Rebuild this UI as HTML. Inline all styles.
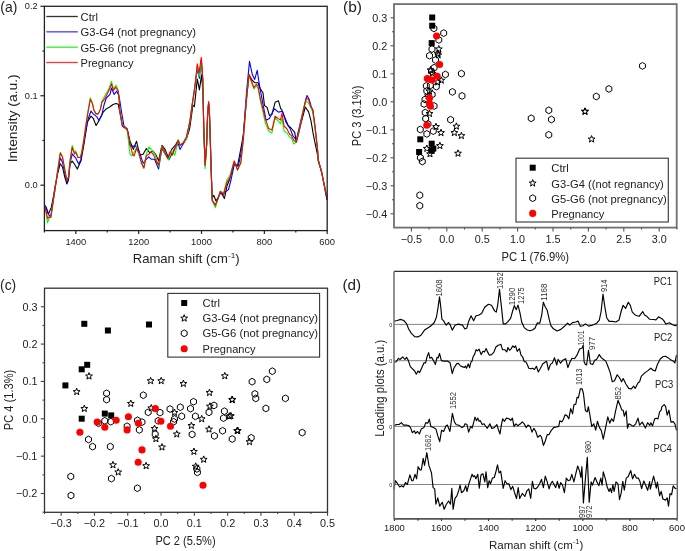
<!DOCTYPE html>
<html><head><meta charset="utf-8"><style>
html,body{margin:0;padding:0;background:#fff;overflow:hidden;width:685px;height:551px;}
svg{display:block;will-change:transform;}
</style></head><body>
<svg width="685" height="551" viewBox="0 0 685 551">
<rect width="685" height="551" fill="#fff"/>
<path d="M44.4,204.0 L44.7,205.2 L46.5,209.0 L48.4,214.0 L51.3,207.4 L53.5,196.0 L55.5,184.0 L58.0,172.0 L60.3,163.7 L62.5,167.0 L64.5,176.0 L66.9,184.0 L68.5,180.0 L70.0,164.0 L72.2,161.1 L74.4,164.0 L77.3,169.1 L80.9,161.1 L83.8,145.2 L87.4,121.9 L91.0,116.1 L93.2,118.3 L96.1,125.6 L99.0,120.5 L103.4,111.8 L106.3,108.9 L110.0,106.7 L113.0,104.5 L116.0,103.5 L118.3,104.3 L120.8,117.4 L122.4,126.4 L125.7,128.5 L127.3,130.0 L130.0,141.2 L133.3,149.4 L136.5,141.2 L139.8,155.1 L143.1,154.3 L146.3,148.6 L149.6,152.7 L152.9,151.0 L156.1,155.1 L158.6,160.8 L161.9,145.3 L165.1,149.4 L168.4,157.6 L171.7,149.4 L175.8,144.5 L178.2,140.4 L180.0,145.0 L183.0,144.0 L186.4,139.0 L189.7,128.4 L192.9,105.2 L194.4,106.6 L197.3,79.0 L199.4,89.9 L201.6,74.7 L203.0,93.5 L203.8,130.0 L205.1,165.1 L206.6,145.0 L207.6,115.0 L208.6,103.0 L209.5,115.0 L210.3,140.0 L211.0,165.0 L212.2,198.0 L213.8,195.4 L216.0,201.0 L219.0,196.0 L221.0,192.0 L224.4,198.6 L227.0,186.0 L230.1,178.0 L234.2,163.0 L237.5,166.0 L241.6,144.7 L243.3,135.0 L246.5,99.0 L249.0,74.5 L252.0,80.0 L254.7,82.7 L258.0,82.7 L260.4,89.2 L262.9,92.5 L264.5,105.6 L267.0,107.2 L269.4,115.4 L271.9,114.5 L275.1,102.3 L278.4,100.7 L280.8,108.8 L281.6,109.4 L284.9,117.6 L288.2,125.8 L291.0,128.0 L294.7,132.3 L296.3,142.1 L301.2,122.5 L305.3,107.0 L308.6,111.9 L311.0,120.8 L313.5,135.6 L317.6,155.2 L318.3,160.0 L321.6,172.0 L323.8,183.0 L326.0,195.0 L327.0,200.0" stroke="#000" stroke-width="1.1" fill="none" stroke-linejoin="round"/>
<path d="M44.4,205.0 L46.2,207.0 L47.6,212.0 L49.5,216.0 L51.0,215.0 L52.7,204.5 L54.9,190.0 L57.5,173.0 L60.3,158.0 L62.5,162.0 L64.5,172.0 L66.9,182.5 L68.5,178.0 L70.1,163.0 L72.2,153.9 L75.8,158.2 L78.7,164.0 L80.9,159.7 L84.5,137.9 L88.1,119.0 L91.0,111.0 L93.2,113.9 L96.9,116.9 L99.0,120.5 L101.9,114.7 L104.0,105.0 L106.3,98.0 L110.0,94.4 L111.5,88.0 L114.2,94.5 L116.7,91.2 L119.1,96.1 L121.6,112.5 L124.0,126.0 L127.3,129.0 L130.0,146.1 L135.7,146.1 L139.0,151.0 L143.1,163.3 L146.3,159.2 L148.8,156.8 L151.2,159.2 L154.5,159.2 L158.6,169.0 L161.9,148.6 L165.9,155.1 L169.2,159.2 L174.1,149.4 L178.2,143.7 L180.0,149.4 L183.0,144.0 L186.4,138.0 L190.0,121.1 L192.2,104.0 L193.6,96.0 L195.1,85.0 L197.3,68.9 L199.4,78.3 L201.3,60.0 L202.8,80.0 L203.8,130.0 L205.1,165.1 L206.6,145.0 L207.6,115.0 L208.6,102.5 L209.5,115.0 L210.3,140.0 L211.0,165.0 L212.2,200.3 L215.4,205.2 L217.9,199.0 L220.3,192.0 L222.8,195.4 L225.0,192.0 L228.5,189.6 L231.0,180.0 L234.2,165.0 L238.3,166.0 L240.8,154.5 L243.3,136.0 L246.5,92.5 L249.5,61.4 L252.3,74.5 L254.7,79.4 L257.2,70.4 L259.6,86.0 L262.9,103.9 L266.1,120.3 L269.4,118.6 L274.3,108.8 L278.4,112.1 L282.5,111.3 L285.8,121.9 L290.0,128.4 L293.0,136.0 L296.3,140.0 L301.2,119.2 L304.0,107.0 L307.0,95.5 L309.0,99.0 L311.0,106.0 L313.0,111.0 L315.1,127.4 L317.6,150.0 L318.3,161.0 L321.6,172.0 L323.8,183.0 L326.0,193.0 L327.0,197.0" stroke="#0000ff" stroke-width="1.1" fill="none" stroke-linejoin="round"/>
<path d="M44.4,206.0 L45.5,210.0 L47.6,222.7 L49.5,217.0 L51.0,216.0 L52.7,204.5 L54.9,190.0 L57.5,171.0 L60.3,152.3 L62.5,157.0 L64.5,168.0 L66.9,180.5 L68.5,177.0 L70.1,160.0 L72.2,145.5 L74.4,152.0 L75.8,151.0 L78.0,157.5 L80.2,157.5 L81.6,152.0 L83.8,139.0 L86.0,123.8 L88.1,110.0 L90.3,97.8 L92.5,103.0 L93.9,110.0 L96.1,113.9 L98.3,113.9 L100.5,108.9 L101.9,101.3 L104.8,95.8 L107.7,91.0 L109.3,87.6 L111.5,81.4 L113.4,89.0 L115.9,85.2 L118.3,90.2 L120.0,110.8 L122.4,125.6 L125.7,128.0 L127.3,131.0 L130.0,154.3 L132.0,156.0 L136.5,147.8 L139.8,157.6 L143.9,167.4 L146.3,154.3 L148.8,147.0 L152.1,150.2 L155.3,155.1 L158.6,166.6 L161.9,146.1 L165.1,154.3 L168.4,160.0 L171.7,151.0 L174.9,155.1 L178.2,139.6 L180.0,145.3 L183.0,143.0 L186.4,139.0 L190.0,121.1 L192.2,105.2 L193.6,95.0 L195.1,84.8 L197.3,66.0 L199.2,76.5 L201.3,59.0 L202.8,80.0 L203.8,130.0 L205.1,168.4 L206.6,145.0 L207.6,115.0 L208.6,103.0 L209.5,115.0 L210.3,140.0 L211.0,165.0 L212.2,201.0 L215.4,207.6 L217.9,199.0 L220.3,191.3 L223.6,193.0 L226.9,180.0 L230.1,175.0 L234.2,161.0 L237.5,170.0 L240.8,163.0 L243.3,140.0 L246.5,99.0 L249.0,75.0 L251.4,82.0 L253.9,89.0 L256.3,86.0 L258.0,88.0 L260.4,101.0 L262.9,112.0 L265.3,123.0 L268.6,131.0 L271.9,133.0 L275.1,118.0 L278.4,121.0 L280.5,124.0 L282.0,118.0 L284.0,131.0 L287.0,133.0 L289.5,137.0 L291.4,138.0 L293.9,144.0 L296.3,142.1 L298.8,132.3 L301.2,120.8 L303.7,108.0 L306.1,101.0 L308.6,103.0 L311.0,108.0 L312.7,112.0 L315.1,129.0 L317.6,151.0 L318.3,161.0 L321.6,172.0 L323.8,182.7 L326.0,192.0 L327.0,196.0" stroke="#00ff00" stroke-width="1.1" fill="none" stroke-linejoin="round"/>
<path d="M44.4,206.0 L45.1,207.4 L46.2,211.8 L47.6,218.3 L49.1,216.9 L50.9,217.6 L52.7,204.5 L54.9,190.0 L57.5,172.0 L60.3,153.0 L62.5,157.0 L64.5,168.0 L66.9,180.5 L68.5,177.0 L70.1,161.0 L72.2,147.3 L74.4,153.9 L75.8,152.4 L78.0,157.5 L80.2,157.5 L81.6,153.9 L83.8,140.8 L86.0,124.8 L88.1,111.8 L90.3,99.4 L92.5,103.8 L93.9,110.3 L96.1,113.9 L98.3,113.9 L100.5,108.9 L101.9,102.3 L104.8,98.7 L107.7,92.9 L109.3,89.6 L111.5,83.9 L113.4,90.4 L115.9,87.2 L118.3,91.2 L120.0,110.8 L122.4,125.6 L125.7,128.0 L127.3,129.6 L129.8,141.9 L132.5,154.3 L134.1,155.9 L136.5,148.6 L139.0,152.7 L141.4,163.3 L143.9,168.2 L146.3,155.9 L148.8,154.3 L151.2,151.9 L153.7,155.1 L156.1,160.8 L158.6,164.9 L161.0,151.0 L162.7,146.1 L165.1,152.7 L167.6,158.4 L170.0,151.9 L172.5,155.1 L175.8,146.1 L178.2,140.4 L180.0,145.3 L183.0,143.0 L186.4,137.0 L190.0,121.1 L192.2,105.2 L193.6,95.0 L195.1,84.8 L197.3,63.8 L199.0,73.2 L201.3,57.3 L202.8,79.0 L203.8,130.0 L205.1,165.1 L206.6,145.0 L207.6,115.0 L208.6,101.5 L209.5,115.0 L210.3,140.0 L211.0,165.0 L212.2,200.3 L215.4,205.2 L217.9,198.6 L220.3,191.3 L223.6,194.5 L226.9,182.3 L230.1,177.4 L234.2,161.0 L237.5,170.0 L240.8,162.7 L243.3,140.0 L246.5,99.0 L249.0,74.5 L251.4,81.0 L253.9,87.6 L256.3,84.3 L258.0,86.0 L260.4,99.0 L262.9,108.8 L265.3,118.6 L268.6,128.4 L271.9,130.1 L275.1,116.2 L278.4,118.6 L280.5,120.0 L282.0,113.0 L284.0,126.0 L287.0,129.0 L289.5,134.0 L291.4,135.6 L293.9,140.5 L296.3,142.1 L298.8,132.3 L301.2,120.8 L303.7,109.4 L306.1,98.0 L308.6,99.6 L311.0,107.0 L312.7,109.4 L315.1,127.4 L317.6,150.3 L318.3,160.9 L321.6,171.8 L323.8,182.7 L326.0,193.6 L327.0,197.5" stroke="#ff0000" stroke-width="1.1" fill="none" stroke-linejoin="round"/>
<rect x="44.40" y="6.30" width="282.80" height="224.30" stroke="#222" stroke-width="1.3" fill="none"/>
<line x1="40.40" y1="6.30" x2="44.40" y2="6.30" stroke="#222" stroke-width="1.2"/>
<text x="37.6" y="9.199999999999983" font-size="9.8" font-family='"Liberation Sans", sans-serif' fill="#222" text-anchor="end" textLength="12.8" lengthAdjust="spacingAndGlyphs">0.2</text>
<line x1="40.40" y1="95.75" x2="44.40" y2="95.75" stroke="#222" stroke-width="1.2"/>
<text x="37.6" y="98.64999999999999" font-size="9.8" font-family='"Liberation Sans", sans-serif' fill="#222" text-anchor="end" textLength="12.8" lengthAdjust="spacingAndGlyphs">0.1</text>
<line x1="40.40" y1="185.20" x2="44.40" y2="185.20" stroke="#222" stroke-width="1.2"/>
<text x="37.6" y="188.1" font-size="9.8" font-family='"Liberation Sans", sans-serif' fill="#222" text-anchor="end" textLength="12.8" lengthAdjust="spacingAndGlyphs">0.0</text>
<line x1="42.40" y1="51.03" x2="44.40" y2="51.03" stroke="#222" stroke-width="1.2"/>
<line x1="42.40" y1="140.47" x2="44.40" y2="140.47" stroke="#222" stroke-width="1.2"/>
<line x1="75.82" y1="230.60" x2="75.82" y2="233.90" stroke="#222" stroke-width="1.2"/>
<text x="75.82222222222222" y="244.9" font-size="9.4" font-family='"Liberation Sans", sans-serif' fill="#222" text-anchor="middle">1400</text>
<line x1="138.67" y1="230.60" x2="138.67" y2="233.90" stroke="#222" stroke-width="1.2"/>
<text x="138.66666666666666" y="244.9" font-size="9.4" font-family='"Liberation Sans", sans-serif' fill="#222" text-anchor="middle">1200</text>
<line x1="201.51" y1="230.60" x2="201.51" y2="233.90" stroke="#222" stroke-width="1.2"/>
<text x="201.51111111111112" y="244.9" font-size="9.4" font-family='"Liberation Sans", sans-serif' fill="#222" text-anchor="middle">1000</text>
<line x1="264.36" y1="230.60" x2="264.36" y2="233.90" stroke="#222" stroke-width="1.2"/>
<text x="264.35555555555555" y="244.9" font-size="9.4" font-family='"Liberation Sans", sans-serif' fill="#222" text-anchor="middle">800</text>
<line x1="327.20" y1="230.60" x2="327.20" y2="233.90" stroke="#222" stroke-width="1.2"/>
<text x="327.2" y="244.9" font-size="9.4" font-family='"Liberation Sans", sans-serif' fill="#222" text-anchor="middle">600</text>
<line x1="44.40" y1="230.60" x2="44.40" y2="232.60" stroke="#222" stroke-width="1.2"/>
<line x1="107.24" y1="230.60" x2="107.24" y2="232.60" stroke="#222" stroke-width="1.2"/>
<line x1="170.09" y1="230.60" x2="170.09" y2="232.60" stroke="#222" stroke-width="1.2"/>
<line x1="232.93" y1="230.60" x2="232.93" y2="232.60" stroke="#222" stroke-width="1.2"/>
<line x1="295.78" y1="230.60" x2="295.78" y2="232.60" stroke="#222" stroke-width="1.2"/>
<text x="0.3" y="12.0" font-size="14.3" font-family='"Liberation Sans", sans-serif' fill="#222" text-anchor="start" textLength="17" lengthAdjust="spacingAndGlyphs">(a)</text>
<text x="17.4" y="118.3" font-size="12.6" font-family='"Liberation Sans", sans-serif' fill="#222" text-anchor="middle" textLength="88" lengthAdjust="spacingAndGlyphs" transform="rotate(-90 17.4 118.3)">Intensity (a.u.)</text>
<text x="132.7" y="263.1" font-size="12.6" textLength="107" lengthAdjust="spacingAndGlyphs" font-family='"Liberation Sans", sans-serif' fill="#222">Raman shift (cm<tspan font-size="8" dy="-5">-1</tspan><tspan dy="5">)</tspan></text>
<line x1="46.30" y1="16.50" x2="77.80" y2="16.50" stroke="#333" stroke-width="1.3"/>
<text x="80.5" y="21.0" font-size="11" font-family='"Liberation Sans", sans-serif' fill="#222" text-anchor="start" textLength="17.5" lengthAdjust="spacingAndGlyphs">Ctrl</text>
<line x1="46.30" y1="31.83" x2="77.80" y2="31.83" stroke="#4040ff" stroke-width="1.3"/>
<text x="80.5" y="36.33" font-size="11" font-family='"Liberation Sans", sans-serif' fill="#222" text-anchor="start" textLength="115.5" lengthAdjust="spacingAndGlyphs">G3-G4 (not pregnancy)</text>
<line x1="46.30" y1="47.16" x2="77.80" y2="47.16" stroke="#30ee30" stroke-width="1.3"/>
<text x="80.5" y="51.66" font-size="11" font-family='"Liberation Sans", sans-serif' fill="#222" text-anchor="start" textLength="115.5" lengthAdjust="spacingAndGlyphs">G5-G6 (not pregnancy)</text>
<line x1="46.30" y1="62.49" x2="77.80" y2="62.49" stroke="#ff3030" stroke-width="1.3"/>
<text x="80.5" y="66.99000000000001" font-size="11" font-family='"Liberation Sans", sans-serif' fill="#222" text-anchor="start" textLength="53" lengthAdjust="spacingAndGlyphs">Pregnancy</text>
<polygon points="436.84,30.10 433.90,31.80 430.96,30.10 430.96,26.70 433.90,25.00 436.84,26.70" fill="none" stroke="#000" stroke-width="1.0"/>
<polygon points="446.64,34.80 443.70,36.50 440.76,34.80 440.76,31.40 443.70,29.70 446.64,31.40" fill="none" stroke="#000" stroke-width="1.0"/>
<polygon points="441.74,41.60 438.80,43.30 435.86,41.60 435.86,38.20 438.80,36.50 441.74,38.20" fill="none" stroke="#000" stroke-width="1.0"/>
<polygon points="434.94,50.80 432.00,52.50 429.06,50.80 429.06,47.40 432.00,45.70 434.94,47.40" fill="none" stroke="#000" stroke-width="1.0"/>
<polygon points="432.44,57.40 429.50,59.10 426.56,57.40 426.56,54.00 429.50,52.30 432.44,54.00" fill="none" stroke="#000" stroke-width="1.0"/>
<polygon points="438.44,61.70 435.50,63.40 432.56,61.70 432.56,58.30 435.50,56.60 438.44,58.30" fill="none" stroke="#000" stroke-width="1.0"/>
<polygon points="437.04,69.40 434.10,71.10 431.16,69.40 431.16,66.00 434.10,64.30 437.04,66.00" fill="none" stroke="#000" stroke-width="1.0"/>
<polygon points="434.44,73.20 431.50,74.90 428.56,73.20 428.56,69.80 431.50,68.10 434.44,69.80" fill="none" stroke="#000" stroke-width="1.0"/>
<polygon points="448.34,76.20 445.40,77.90 442.46,76.20 442.46,72.80 445.40,71.10 448.34,72.80" fill="none" stroke="#000" stroke-width="1.0"/>
<polygon points="464.34,75.30 461.40,77.00 458.46,75.30 458.46,71.90 461.40,70.20 464.34,71.90" fill="none" stroke="#000" stroke-width="1.0"/>
<polygon points="429.24,87.60 426.30,89.30 423.36,87.60 423.36,84.20 426.30,82.50 429.24,84.20" fill="none" stroke="#000" stroke-width="1.0"/>
<polygon points="433.34,87.10 430.40,88.80 427.46,87.10 427.46,83.70 430.40,82.00 433.34,83.70" fill="none" stroke="#000" stroke-width="1.0"/>
<polygon points="439.24,88.30 436.30,90.00 433.36,88.30 433.36,84.90 436.30,83.20 439.24,84.90" fill="none" stroke="#000" stroke-width="1.0"/>
<polygon points="429.74,92.60 426.80,94.30 423.86,92.60 423.86,89.20 426.80,87.50 429.74,89.20" fill="none" stroke="#000" stroke-width="1.0"/>
<polygon points="435.14,96.20 432.20,97.90 429.26,96.20 429.26,92.80 432.20,91.10 435.14,92.80" fill="none" stroke="#000" stroke-width="1.0"/>
<polygon points="455.34,93.60 452.40,95.30 449.46,93.60 449.46,90.20 452.40,88.50 455.34,90.20" fill="none" stroke="#000" stroke-width="1.0"/>
<polygon points="464.94,97.60 462.00,99.30 459.06,97.60 459.06,94.20 462.00,92.50 464.94,94.20" fill="none" stroke="#000" stroke-width="1.0"/>
<polygon points="427.94,101.20 425.00,102.90 422.06,101.20 422.06,97.80 425.00,96.10 427.94,97.80" fill="none" stroke="#000" stroke-width="1.0"/>
<polygon points="437.04,107.70 434.10,109.40 431.16,107.70 431.16,104.30 434.10,102.60 437.04,104.30" fill="none" stroke="#000" stroke-width="1.0"/>
<polygon points="428.14,114.30 425.20,116.00 422.26,114.30 422.26,110.90 425.20,109.20 428.14,110.90" fill="none" stroke="#000" stroke-width="1.0"/>
<polygon points="428.64,120.30 425.70,122.00 422.76,120.30 422.76,116.90 425.70,115.20 428.64,116.90" fill="none" stroke="#000" stroke-width="1.0"/>
<polygon points="453.54,121.40 450.60,123.10 447.66,121.40 447.66,118.00 450.60,116.30 453.54,118.00" fill="none" stroke="#000" stroke-width="1.0"/>
<polygon points="423.24,131.20 420.30,132.90 417.36,131.20 417.36,127.80 420.30,126.10 423.24,127.80" fill="none" stroke="#000" stroke-width="1.0"/>
<polygon points="436.24,132.80 433.30,134.50 430.36,132.80 430.36,129.40 433.30,127.70 436.24,129.40" fill="none" stroke="#000" stroke-width="1.0"/>
<polygon points="429.74,135.60 426.80,137.30 423.86,135.60 423.86,132.20 426.80,130.50 429.74,132.20" fill="none" stroke="#000" stroke-width="1.0"/>
<polygon points="423.34,159.40 420.40,161.10 417.46,159.40 417.46,156.00 420.40,154.30 423.34,156.00" fill="none" stroke="#000" stroke-width="1.0"/>
<polygon points="425.24,163.20 422.30,164.90 419.36,163.20 419.36,159.80 422.30,158.10 425.24,159.80" fill="none" stroke="#000" stroke-width="1.0"/>
<polygon points="422.74,196.90 419.80,198.60 416.86,196.90 416.86,193.50 419.80,191.80 422.74,193.50" fill="none" stroke="#000" stroke-width="1.0"/>
<polygon points="422.74,207.40 419.80,209.10 416.86,207.40 416.86,204.00 419.80,202.30 422.74,204.00" fill="none" stroke="#000" stroke-width="1.0"/>
<polygon points="534.14,120.00 531.20,121.70 528.26,120.00 528.26,116.60 531.20,114.90 534.14,116.60" fill="none" stroke="#000" stroke-width="1.0"/>
<polygon points="551.74,112.00 548.80,113.70 545.86,112.00 545.86,108.60 548.80,106.90 551.74,108.60" fill="none" stroke="#000" stroke-width="1.0"/>
<polygon points="554.34,121.20 551.40,122.90 548.46,121.20 548.46,117.80 551.40,116.10 554.34,117.80" fill="none" stroke="#000" stroke-width="1.0"/>
<polygon points="551.74,136.50 548.80,138.20 545.86,136.50 545.86,133.10 548.80,131.40 551.74,133.10" fill="none" stroke="#000" stroke-width="1.0"/>
<polygon points="645.44,67.60 642.50,69.30 639.56,67.60 639.56,64.20 642.50,62.50 645.44,64.20" fill="none" stroke="#000" stroke-width="1.0"/>
<polygon points="611.84,90.60 608.90,92.30 605.96,90.60 605.96,87.20 608.90,85.50 611.84,87.20" fill="none" stroke="#000" stroke-width="1.0"/>
<polygon points="599.24,98.20 596.30,99.90 593.36,98.20 593.36,94.80 596.30,93.10 599.24,94.80" fill="none" stroke="#000" stroke-width="1.0"/>
<polygon points="430.94,125.70 428.00,127.40 425.06,125.70 425.06,122.30 428.00,120.60 430.94,122.30" fill="none" stroke="#000" stroke-width="1.0"/>
<polygon points="426.94,105.70 424.00,107.40 421.06,105.70 421.06,102.30 424.00,100.60 426.94,102.30" fill="none" stroke="#000" stroke-width="1.0"/>
<polygon points="438.80,45.50 439.69,47.88 442.22,47.99 440.24,49.57 440.92,52.01 438.80,50.61 436.68,52.01 437.36,49.57 435.38,47.99 437.91,47.88" fill="none" stroke="#000" stroke-width="1.0" stroke-linejoin="miter"/>
<polygon points="437.70,49.90 438.59,52.28 441.12,52.39 439.14,53.97 439.82,56.41 437.70,55.01 435.58,56.41 436.26,53.97 434.28,52.39 436.81,52.28" fill="none" stroke="#000" stroke-width="1.0" stroke-linejoin="miter"/>
<polygon points="438.20,51.50 439.09,53.88 441.62,53.99 439.64,55.57 440.32,58.01 438.20,56.61 436.08,58.01 436.76,55.57 434.78,53.99 437.31,53.88" fill="none" stroke="#000" stroke-width="1.0" stroke-linejoin="miter"/>
<polygon points="430.50,66.40 431.39,68.78 433.92,68.89 431.94,70.47 432.62,72.91 430.50,71.51 428.38,72.91 429.06,70.47 427.08,68.89 429.61,68.78" fill="none" stroke="#000" stroke-width="1.0" stroke-linejoin="miter"/>
<polygon points="432.50,69.90 433.39,72.28 435.92,72.39 433.94,73.97 434.62,76.41 432.50,75.01 430.38,76.41 431.06,73.97 429.08,72.39 431.61,72.28" fill="none" stroke="#000" stroke-width="1.0" stroke-linejoin="miter"/>
<polygon points="441.30,76.80 442.19,79.18 444.72,79.29 442.74,80.87 443.42,83.31 441.30,81.91 439.18,83.31 439.86,80.87 437.88,79.29 440.41,79.18" fill="none" stroke="#000" stroke-width="1.0" stroke-linejoin="miter"/>
<polygon points="437.70,78.60 438.59,80.98 441.12,81.09 439.14,82.67 439.82,85.11 437.70,83.71 435.58,85.11 436.26,82.67 434.28,81.09 436.81,80.98" fill="none" stroke="#000" stroke-width="1.0" stroke-linejoin="miter"/>
<polygon points="429.50,87.70 430.39,90.08 432.92,90.19 430.94,91.77 431.62,94.21 429.50,92.81 427.38,94.21 428.06,91.77 426.08,90.19 428.61,90.08" fill="none" stroke="#000" stroke-width="1.0" stroke-linejoin="miter"/>
<polygon points="429.50,110.10 430.39,112.48 432.92,112.59 430.94,114.17 431.62,116.61 429.50,115.21 427.38,116.61 428.06,114.17 426.08,112.59 428.61,112.48" fill="none" stroke="#000" stroke-width="1.0" stroke-linejoin="miter"/>
<polygon points="436.00,123.20 436.89,125.58 439.42,125.69 437.44,127.27 438.12,129.71 436.00,128.31 433.88,129.71 434.56,127.27 432.58,125.69 435.11,125.58" fill="none" stroke="#000" stroke-width="1.0" stroke-linejoin="miter"/>
<polygon points="456.40,122.80 457.29,125.18 459.82,125.29 457.84,126.87 458.52,129.31 456.40,127.91 454.28,129.31 454.96,126.87 452.98,125.29 455.51,125.18" fill="none" stroke="#000" stroke-width="1.0" stroke-linejoin="miter"/>
<polygon points="441.00,129.20 441.89,131.58 444.42,131.69 442.44,133.27 443.12,135.71 441.00,134.31 438.88,135.71 439.56,133.27 437.58,131.69 440.11,131.58" fill="none" stroke="#000" stroke-width="1.0" stroke-linejoin="miter"/>
<polygon points="454.40,129.20 455.29,131.58 457.82,131.69 455.84,133.27 456.52,135.71 454.40,134.31 452.28,135.71 452.96,133.27 450.98,131.69 453.51,131.58" fill="none" stroke="#000" stroke-width="1.0" stroke-linejoin="miter"/>
<polygon points="461.40,132.20 462.29,134.58 464.82,134.69 462.84,136.27 463.52,138.71 461.40,137.31 459.28,138.71 459.96,136.27 457.98,134.69 460.51,134.58" fill="none" stroke="#000" stroke-width="1.0" stroke-linejoin="miter"/>
<polygon points="439.90,142.20 440.79,144.58 443.32,144.69 441.34,146.27 442.02,148.71 439.90,147.31 437.78,148.71 438.46,146.27 436.48,144.69 439.01,144.58" fill="none" stroke="#000" stroke-width="1.0" stroke-linejoin="miter"/>
<polygon points="426.80,145.00 427.69,147.38 430.22,147.49 428.24,149.07 428.92,151.51 426.80,150.11 424.68,151.51 425.36,149.07 423.38,147.49 425.91,147.38" fill="none" stroke="#000" stroke-width="1.0" stroke-linejoin="miter"/>
<polygon points="430.00,150.40 430.89,152.78 433.42,152.89 431.44,154.47 432.12,156.91 430.00,155.51 427.88,156.91 428.56,154.47 426.58,152.89 429.11,152.78" fill="none" stroke="#000" stroke-width="1.0" stroke-linejoin="miter"/>
<polygon points="458.00,149.80 458.89,152.18 461.42,152.29 459.44,153.87 460.12,156.31 458.00,154.91 455.88,156.31 456.56,153.87 454.58,152.29 457.11,152.18" fill="none" stroke="#000" stroke-width="1.0" stroke-linejoin="miter"/>
<polygon points="585.00,107.90 585.89,110.28 588.42,110.39 586.44,111.97 587.12,114.41 585.00,113.01 582.88,114.41 583.56,111.97 581.58,110.39 584.11,110.28" fill="none" stroke="#000" stroke-width="1.0" stroke-linejoin="miter"/>
<polygon points="585.00,107.90 585.89,110.28 588.42,110.39 586.44,111.97 587.12,114.41 585.00,113.01 582.88,114.41 583.56,111.97 581.58,110.39 584.11,110.28" fill="none" stroke="#000" stroke-width="1.0" stroke-linejoin="miter"/>
<polygon points="591.60,135.60 592.49,137.98 595.02,138.09 593.04,139.67 593.72,142.11 591.60,140.71 589.48,142.11 590.16,139.67 588.18,138.09 590.71,137.98" fill="none" stroke="#000" stroke-width="1.0" stroke-linejoin="miter"/>
<polygon points="428.00,92.40 428.89,94.78 431.42,94.89 429.44,96.47 430.12,98.91 428.00,97.51 425.88,98.91 426.56,96.47 424.58,94.89 427.11,94.78" fill="none" stroke="#000" stroke-width="1.0" stroke-linejoin="miter"/>
<rect x="429.2" y="14.5" width="6" height="6" fill="#000"/>
<rect x="429.2" y="22.7" width="6" height="6" fill="#000"/>
<rect x="428.7" y="40.1" width="6" height="6" fill="#000"/>
<rect x="417.3" y="136.3" width="6" height="6" fill="#000"/>
<rect x="428.7" y="140.7" width="6" height="6" fill="#000"/>
<rect x="430.3" y="145.6" width="6" height="6" fill="#000"/>
<rect x="428.7" y="147.8" width="6" height="6" fill="#000"/>
<rect x="416.1" y="149.0" width="6" height="6" fill="#000"/>
<circle cx="436.6" cy="36.0" r="3.55" fill="#f00"/>
<circle cx="439.6" cy="64.5" r="3.55" fill="#f00"/>
<circle cx="437.2" cy="76.3" r="3.55" fill="#f00"/>
<circle cx="427.3" cy="78.6" r="3.55" fill="#f00"/>
<circle cx="431.8" cy="80.0" r="3.55" fill="#f00"/>
<circle cx="429.5" cy="98.1" r="3.55" fill="#f00"/>
<circle cx="429.5" cy="103.6" r="3.55" fill="#f00"/>
<circle cx="430.4" cy="106.3" r="3.55" fill="#f00"/>
<circle cx="426.8" cy="125.2" r="3.55" fill="#f00"/>
<rect x="394.00" y="4.10" width="282.70" height="223.50" stroke="#707070" stroke-width="1.8" fill="none"/>
<line x1="390.50" y1="213.80" x2="394.00" y2="213.80" stroke="#555" stroke-width="1.1"/>
<text x="387.2" y="217.70000000000002" font-size="10.8" font-family='"Liberation Sans", sans-serif' fill="#222" text-anchor="end">−0.4</text>
<line x1="390.50" y1="185.80" x2="394.00" y2="185.80" stroke="#555" stroke-width="1.1"/>
<text x="387.2" y="189.70000000000002" font-size="10.8" font-family='"Liberation Sans", sans-serif' fill="#222" text-anchor="end">−0.3</text>
<line x1="390.50" y1="157.80" x2="394.00" y2="157.80" stroke="#555" stroke-width="1.1"/>
<text x="387.2" y="161.70000000000002" font-size="10.8" font-family='"Liberation Sans", sans-serif' fill="#222" text-anchor="end">−0.2</text>
<line x1="390.50" y1="129.80" x2="394.00" y2="129.80" stroke="#555" stroke-width="1.1"/>
<text x="387.2" y="133.70000000000002" font-size="10.8" font-family='"Liberation Sans", sans-serif' fill="#222" text-anchor="end">−0.1</text>
<line x1="390.50" y1="101.80" x2="394.00" y2="101.80" stroke="#555" stroke-width="1.1"/>
<text x="387.2" y="105.7" font-size="10.8" font-family='"Liberation Sans", sans-serif' fill="#222" text-anchor="end">0.0</text>
<line x1="390.50" y1="73.80" x2="394.00" y2="73.80" stroke="#555" stroke-width="1.1"/>
<text x="387.2" y="77.7" font-size="10.8" font-family='"Liberation Sans", sans-serif' fill="#222" text-anchor="end">0.1</text>
<line x1="390.50" y1="45.80" x2="394.00" y2="45.80" stroke="#555" stroke-width="1.1"/>
<text x="387.2" y="49.699999999999996" font-size="10.8" font-family='"Liberation Sans", sans-serif' fill="#222" text-anchor="end">0.2</text>
<line x1="390.50" y1="17.80" x2="394.00" y2="17.80" stroke="#555" stroke-width="1.1"/>
<text x="387.2" y="21.699999999999996" font-size="10.8" font-family='"Liberation Sans", sans-serif' fill="#222" text-anchor="end">0.3</text>
<line x1="392.00" y1="199.80" x2="394.00" y2="199.80" stroke="#555" stroke-width="1.1"/>
<line x1="392.00" y1="171.80" x2="394.00" y2="171.80" stroke="#555" stroke-width="1.1"/>
<line x1="392.00" y1="143.80" x2="394.00" y2="143.80" stroke="#555" stroke-width="1.1"/>
<line x1="392.00" y1="115.80" x2="394.00" y2="115.80" stroke="#555" stroke-width="1.1"/>
<line x1="392.00" y1="87.80" x2="394.00" y2="87.80" stroke="#555" stroke-width="1.1"/>
<line x1="392.00" y1="59.80" x2="394.00" y2="59.80" stroke="#555" stroke-width="1.1"/>
<line x1="392.00" y1="31.80" x2="394.00" y2="31.80" stroke="#555" stroke-width="1.1"/>
<line x1="411.40" y1="227.60" x2="411.40" y2="231.40" stroke="#555" stroke-width="1.1"/>
<text x="411.40000000000003" y="243.2" font-size="10.8" font-family='"Liberation Sans", sans-serif' fill="#222" text-anchor="middle">−0.5</text>
<line x1="446.80" y1="227.60" x2="446.80" y2="231.40" stroke="#555" stroke-width="1.1"/>
<text x="446.8" y="243.2" font-size="10.8" font-family='"Liberation Sans", sans-serif' fill="#222" text-anchor="middle">0.0</text>
<line x1="482.20" y1="227.60" x2="482.20" y2="231.40" stroke="#555" stroke-width="1.1"/>
<text x="482.2" y="243.2" font-size="10.8" font-family='"Liberation Sans", sans-serif' fill="#222" text-anchor="middle">0.5</text>
<line x1="517.60" y1="227.60" x2="517.60" y2="231.40" stroke="#555" stroke-width="1.1"/>
<text x="517.6" y="243.2" font-size="10.8" font-family='"Liberation Sans", sans-serif' fill="#222" text-anchor="middle">1.0</text>
<line x1="553.00" y1="227.60" x2="553.00" y2="231.40" stroke="#555" stroke-width="1.1"/>
<text x="553.0" y="243.2" font-size="10.8" font-family='"Liberation Sans", sans-serif' fill="#222" text-anchor="middle">1.5</text>
<line x1="588.40" y1="227.60" x2="588.40" y2="231.40" stroke="#555" stroke-width="1.1"/>
<text x="588.4" y="243.2" font-size="10.8" font-family='"Liberation Sans", sans-serif' fill="#222" text-anchor="middle">2.0</text>
<line x1="623.80" y1="227.60" x2="623.80" y2="231.40" stroke="#555" stroke-width="1.1"/>
<text x="623.8" y="243.2" font-size="10.8" font-family='"Liberation Sans", sans-serif' fill="#222" text-anchor="middle">2.5</text>
<line x1="659.20" y1="227.60" x2="659.20" y2="231.40" stroke="#555" stroke-width="1.1"/>
<text x="659.2" y="243.2" font-size="10.8" font-family='"Liberation Sans", sans-serif' fill="#222" text-anchor="middle">3.0</text>
<line x1="429.10" y1="227.60" x2="429.10" y2="229.60" stroke="#555" stroke-width="1.1"/>
<line x1="464.50" y1="227.60" x2="464.50" y2="229.60" stroke="#555" stroke-width="1.1"/>
<line x1="499.90" y1="227.60" x2="499.90" y2="229.60" stroke="#555" stroke-width="1.1"/>
<line x1="535.30" y1="227.60" x2="535.30" y2="229.60" stroke="#555" stroke-width="1.1"/>
<line x1="570.70" y1="227.60" x2="570.70" y2="229.60" stroke="#555" stroke-width="1.1"/>
<line x1="606.10" y1="227.60" x2="606.10" y2="229.60" stroke="#555" stroke-width="1.1"/>
<line x1="641.50" y1="227.60" x2="641.50" y2="229.60" stroke="#555" stroke-width="1.1"/>
<line x1="676.90" y1="227.60" x2="676.90" y2="229.60" stroke="#555" stroke-width="1.1"/>
<text x="343.0" y="11.6" font-size="14.0" font-family='"Liberation Sans", sans-serif' fill="#222" text-anchor="start" textLength="18.9" lengthAdjust="spacingAndGlyphs">(b)</text>
<text x="361.0" y="115.9" font-size="12.4" font-family='"Liberation Sans", sans-serif' fill="#222" text-anchor="middle" textLength="60.5" lengthAdjust="spacingAndGlyphs" transform="rotate(-90 361.0 115.9)">PC 3 (3.1%)</text>
<text x="501.5" y="261.0" font-size="12" font-family='"Liberation Sans", sans-serif' fill="#222" text-anchor="start" textLength="67.5" lengthAdjust="spacingAndGlyphs">PC 1 (76.9%)</text>
<rect x="516.00" y="158.20" width="152.30" height="63.80" stroke="#333" stroke-width="1.1" fill="#fff"/>
<rect x="529.7" y="164.7" width="6" height="6" fill="#000"/>
<text x="551.3" y="172.0" font-size="11" font-family='"Liberation Sans", sans-serif' fill="#222" text-anchor="start" textLength="17.5" lengthAdjust="spacingAndGlyphs">Ctrl</text>
<polygon points="532.70,179.60 533.59,181.98 536.12,182.09 534.14,183.67 534.82,186.11 532.70,184.71 530.58,186.11 531.26,183.67 529.28,182.09 531.81,181.98" fill="none" stroke="#000" stroke-width="1.0" stroke-linejoin="miter"/>
<text x="551.3" y="187.5" font-size="11" font-family='"Liberation Sans", sans-serif' fill="#222" text-anchor="start" textLength="112.5" lengthAdjust="spacingAndGlyphs">G3-G4 ((not regnancy)</text>
<polygon points="535.64,199.90 532.70,201.60 529.76,199.90 529.76,196.50 532.70,194.80 535.64,196.50" fill="none" stroke="#000" stroke-width="1.0"/>
<text x="551.3" y="202.5" font-size="11" font-family='"Liberation Sans", sans-serif' fill="#222" text-anchor="start" textLength="115.5" lengthAdjust="spacingAndGlyphs">G5-G6 (not pregnancy)</text>
<circle cx="532.7" cy="213.4" r="3.55" fill="#f00"/>
<text x="551.3" y="217.70000000000002" font-size="11" font-family='"Liberation Sans", sans-serif' fill="#222" text-anchor="start" textLength="53" lengthAdjust="spacingAndGlyphs">Pregnancy</text>
<polygon points="109.54,395.00 106.60,396.70 103.66,395.00 103.66,391.60 106.60,389.90 109.54,391.60" fill="none" stroke="#000" stroke-width="1.0"/>
<polygon points="109.54,401.30 106.60,403.00 103.66,401.30 103.66,397.90 106.60,396.20 109.54,397.90" fill="none" stroke="#000" stroke-width="1.0"/>
<polygon points="146.24,396.90 143.30,398.60 140.36,396.90 140.36,393.50 143.30,391.80 146.24,393.50" fill="none" stroke="#000" stroke-width="1.0"/>
<polygon points="101.34,424.90 98.40,426.60 95.46,424.90 95.46,421.50 98.40,419.80 101.34,421.50" fill="none" stroke="#000" stroke-width="1.0"/>
<polygon points="107.74,422.50 104.80,424.20 101.86,422.50 101.86,419.10 104.80,417.40 107.74,419.10" fill="none" stroke="#000" stroke-width="1.0"/>
<polygon points="113.74,423.40 110.80,425.10 107.86,423.40 107.86,420.00 110.80,418.30 113.74,420.00" fill="none" stroke="#000" stroke-width="1.0"/>
<polygon points="130.04,428.00 127.10,429.70 124.16,428.00 124.16,424.60 127.10,422.90 130.04,424.60" fill="none" stroke="#000" stroke-width="1.0"/>
<polygon points="140.44,422.00 137.50,423.70 134.56,422.00 134.56,418.60 137.50,416.90 140.44,418.60" fill="none" stroke="#000" stroke-width="1.0"/>
<polygon points="144.94,423.80 142.00,425.50 139.06,423.80 139.06,420.40 142.00,418.70 144.94,420.40" fill="none" stroke="#000" stroke-width="1.0"/>
<polygon points="142.24,431.60 139.30,433.30 136.36,431.60 136.36,428.20 139.30,426.50 142.24,428.20" fill="none" stroke="#000" stroke-width="1.0"/>
<polygon points="91.44,441.20 88.50,442.90 85.56,441.20 85.56,437.80 88.50,436.10 91.44,437.80" fill="none" stroke="#000" stroke-width="1.0"/>
<polygon points="95.54,448.30 92.60,450.00 89.66,448.30 89.66,444.90 92.60,443.20 95.54,444.90" fill="none" stroke="#000" stroke-width="1.0"/>
<polygon points="113.24,448.30 110.30,450.00 107.36,448.30 107.36,444.90 110.30,443.20 113.24,444.90" fill="none" stroke="#000" stroke-width="1.0"/>
<polygon points="73.74,478.20 70.80,479.90 67.86,478.20 67.86,474.80 70.80,473.10 73.74,474.80" fill="none" stroke="#000" stroke-width="1.0"/>
<polygon points="114.34,480.30 111.40,482.00 108.46,480.30 108.46,476.90 111.40,475.20 114.34,476.90" fill="none" stroke="#000" stroke-width="1.0"/>
<polygon points="140.34,489.90 137.40,491.60 134.46,489.90 134.46,486.50 137.40,484.80 140.34,486.50" fill="none" stroke="#000" stroke-width="1.0"/>
<polygon points="73.94,497.20 71.00,498.90 68.06,497.20 68.06,493.80 71.00,492.10 73.94,493.80" fill="none" stroke="#000" stroke-width="1.0"/>
<polygon points="196.44,403.40 193.50,405.10 190.56,403.40 190.56,400.00 193.50,398.30 196.44,400.00" fill="none" stroke="#000" stroke-width="1.0"/>
<polygon points="183.24,408.90 180.30,410.60 177.36,408.90 177.36,405.50 180.30,403.80 183.24,405.50" fill="none" stroke="#000" stroke-width="1.0"/>
<polygon points="172.94,410.70 170.00,412.40 167.06,410.70 167.06,407.30 170.00,405.60 172.94,407.30" fill="none" stroke="#000" stroke-width="1.0"/>
<polygon points="151.14,414.00 148.20,415.70 145.26,414.00 145.26,410.60 148.20,408.90 151.14,410.60" fill="none" stroke="#000" stroke-width="1.0"/>
<polygon points="162.94,414.30 160.00,416.00 157.06,414.30 157.06,410.90 160.00,409.20 162.94,410.90" fill="none" stroke="#000" stroke-width="1.0"/>
<polygon points="193.44,410.30 190.50,412.00 187.56,410.30 187.56,406.90 190.50,405.20 193.44,406.90" fill="none" stroke="#000" stroke-width="1.0"/>
<polygon points="216.94,407.10 214.00,408.80 211.06,407.10 211.06,403.70 214.00,402.00 216.94,403.70" fill="none" stroke="#000" stroke-width="1.0"/>
<polygon points="211.94,414.00 209.00,415.70 206.06,414.00 206.06,410.60 209.00,408.90 211.94,410.60" fill="none" stroke="#000" stroke-width="1.0"/>
<polygon points="227.34,412.90 224.40,414.60 221.46,412.90 221.46,409.50 224.40,407.80 227.34,409.50" fill="none" stroke="#000" stroke-width="1.0"/>
<polygon points="226.44,419.80 223.50,421.50 220.56,419.80 220.56,416.40 223.50,414.70 226.44,416.40" fill="none" stroke="#000" stroke-width="1.0"/>
<polygon points="184.64,418.00 181.70,419.70 178.76,418.00 178.76,414.60 181.70,412.90 184.64,414.60" fill="none" stroke="#000" stroke-width="1.0"/>
<polygon points="198.34,418.00 195.40,419.70 192.46,418.00 192.46,414.60 195.40,412.90 198.34,414.60" fill="none" stroke="#000" stroke-width="1.0"/>
<polygon points="177.44,420.70 174.50,422.40 171.56,420.70 171.56,417.30 174.50,415.60 177.44,417.30" fill="none" stroke="#000" stroke-width="1.0"/>
<polygon points="176.54,423.40 173.60,425.10 170.66,423.40 170.66,420.00 173.60,418.30 176.54,420.00" fill="none" stroke="#000" stroke-width="1.0"/>
<polygon points="161.04,422.50 158.10,424.20 155.16,422.50 155.16,419.10 158.10,417.40 161.04,419.10" fill="none" stroke="#000" stroke-width="1.0"/>
<polygon points="158.14,435.90 155.20,437.60 152.26,435.90 152.26,432.50 155.20,430.80 158.14,432.50" fill="none" stroke="#000" stroke-width="1.0"/>
<polygon points="195.04,436.10 192.10,437.80 189.16,436.10 189.16,432.70 192.10,431.00 195.04,432.70" fill="none" stroke="#000" stroke-width="1.0"/>
<polygon points="225.54,432.50 222.60,434.20 219.66,432.50 219.66,429.10 222.60,427.40 225.54,429.10" fill="none" stroke="#000" stroke-width="1.0"/>
<polygon points="217.34,437.60 214.40,439.30 211.46,437.60 211.46,434.20 214.40,432.50 217.34,434.20" fill="none" stroke="#000" stroke-width="1.0"/>
<polygon points="235.14,440.70 232.20,442.40 229.26,440.70 229.26,437.30 232.20,435.60 235.14,437.30" fill="none" stroke="#000" stroke-width="1.0"/>
<polygon points="275.24,372.90 272.30,374.60 269.36,372.90 269.36,369.50 272.30,367.80 275.24,369.50" fill="none" stroke="#000" stroke-width="1.0"/>
<polygon points="269.74,381.10 266.80,382.80 263.86,381.10 263.86,377.70 266.80,376.00 269.74,377.70" fill="none" stroke="#000" stroke-width="1.0"/>
<polygon points="255.04,383.40 252.10,385.10 249.16,383.40 249.16,380.00 252.10,378.30 255.04,380.00" fill="none" stroke="#000" stroke-width="1.0"/>
<polygon points="257.84,395.60 254.90,397.30 251.96,395.60 251.96,392.20 254.90,390.50 257.84,392.20" fill="none" stroke="#000" stroke-width="1.0"/>
<polygon points="258.74,400.10 255.80,401.80 252.86,400.10 252.86,396.70 255.80,395.00 258.74,396.70" fill="none" stroke="#000" stroke-width="1.0"/>
<polygon points="288.34,400.10 285.40,401.80 282.46,400.10 282.46,396.70 285.40,395.00 288.34,396.70" fill="none" stroke="#000" stroke-width="1.0"/>
<polygon points="268.84,410.10 265.90,411.80 262.96,410.10 262.96,406.70 265.90,405.00 268.84,406.70" fill="none" stroke="#000" stroke-width="1.0"/>
<polygon points="305.14,434.30 302.20,436.00 299.26,434.30 299.26,430.90 302.20,429.20 305.14,430.90" fill="none" stroke="#000" stroke-width="1.0"/>
<polygon points="254.14,439.50 251.20,441.20 248.26,439.50 248.26,436.10 251.20,434.40 254.14,436.10" fill="none" stroke="#000" stroke-width="1.0"/>
<polygon points="199.84,470.60 196.90,472.30 193.96,470.60 193.96,467.20 196.90,465.50 199.84,467.20" fill="none" stroke="#000" stroke-width="1.0"/>
<polygon points="200.34,474.10 197.40,475.80 194.46,474.10 194.46,470.70 197.40,469.00 200.34,470.70" fill="none" stroke="#000" stroke-width="1.0"/>
<polygon points="89.00,372.60 89.89,374.98 92.42,375.09 90.44,376.67 91.12,379.11 89.00,377.71 86.88,379.11 87.56,376.67 85.58,375.09 88.11,374.98" fill="none" stroke="#000" stroke-width="1.0" stroke-linejoin="miter"/>
<polygon points="76.70,388.20 77.59,390.58 80.12,390.69 78.14,392.27 78.82,394.71 76.70,393.31 74.58,394.71 75.26,392.27 73.28,390.69 75.81,390.58" fill="none" stroke="#000" stroke-width="1.0" stroke-linejoin="miter"/>
<polygon points="84.30,405.10 85.19,407.48 87.72,407.59 85.74,409.17 86.42,411.61 84.30,410.21 82.18,411.61 82.86,409.17 80.88,407.59 83.41,407.48" fill="none" stroke="#000" stroke-width="1.0" stroke-linejoin="miter"/>
<polygon points="130.80,400.00 131.69,402.38 134.22,402.49 132.24,404.07 132.92,406.51 130.80,405.11 128.68,406.51 129.36,404.07 127.38,402.49 129.91,402.38" fill="none" stroke="#000" stroke-width="1.0" stroke-linejoin="miter"/>
<polygon points="113.00,461.40 113.89,463.78 116.42,463.89 114.44,465.47 115.12,467.91 113.00,466.51 110.88,467.91 111.56,465.47 109.58,463.89 112.11,463.78" fill="none" stroke="#000" stroke-width="1.0" stroke-linejoin="miter"/>
<polygon points="118.20,468.60 119.09,470.98 121.62,471.09 119.64,472.67 120.32,475.11 118.20,473.71 116.08,475.11 116.76,472.67 114.78,471.09 117.31,470.98" fill="none" stroke="#000" stroke-width="1.0" stroke-linejoin="miter"/>
<polygon points="150.60,377.30 151.49,379.68 154.02,379.79 152.04,381.37 152.72,383.81 150.60,382.41 148.48,383.81 149.16,381.37 147.18,379.79 149.71,379.68" fill="none" stroke="#000" stroke-width="1.0" stroke-linejoin="miter"/>
<polygon points="161.20,377.30 162.09,379.68 164.62,379.79 162.64,381.37 163.32,383.81 161.20,382.41 159.08,383.81 159.76,381.37 157.78,379.79 160.31,379.68" fill="none" stroke="#000" stroke-width="1.0" stroke-linejoin="miter"/>
<polygon points="183.40,380.10 184.29,382.48 186.82,382.59 184.84,384.17 185.52,386.61 183.40,385.21 181.28,386.61 181.96,384.17 179.98,382.59 182.51,382.48" fill="none" stroke="#000" stroke-width="1.0" stroke-linejoin="miter"/>
<polygon points="224.80,372.40 225.69,374.78 228.22,374.89 226.24,376.47 226.92,378.91 224.80,377.51 222.68,378.91 223.36,376.47 221.38,374.89 223.91,374.78" fill="none" stroke="#000" stroke-width="1.0" stroke-linejoin="miter"/>
<polygon points="209.50,389.10 210.39,391.48 212.92,391.59 210.94,393.17 211.62,395.61 209.50,394.21 207.38,395.61 208.06,393.17 206.08,391.59 208.61,391.48" fill="none" stroke="#000" stroke-width="1.0" stroke-linejoin="miter"/>
<polygon points="232.20,396.00 233.09,398.38 235.62,398.49 233.64,400.07 234.32,402.51 232.20,401.11 230.08,402.51 230.76,400.07 228.78,398.49 231.31,398.38" fill="none" stroke="#000" stroke-width="1.0" stroke-linejoin="miter"/>
<polygon points="151.30,404.50 152.19,406.88 154.72,406.99 152.74,408.57 153.42,411.01 151.30,409.61 149.18,411.01 149.86,408.57 147.88,406.99 150.41,406.88" fill="none" stroke="#000" stroke-width="1.0" stroke-linejoin="miter"/>
<polygon points="174.50,409.00 175.39,411.38 177.92,411.49 175.94,413.07 176.62,415.51 174.50,414.11 172.38,415.51 173.06,413.07 171.08,411.49 173.61,411.38" fill="none" stroke="#000" stroke-width="1.0" stroke-linejoin="miter"/>
<polygon points="209.90,402.70 210.79,405.08 213.32,405.19 211.34,406.77 212.02,409.21 209.90,407.81 207.78,409.21 208.46,406.77 206.48,405.19 209.01,405.08" fill="none" stroke="#000" stroke-width="1.0" stroke-linejoin="miter"/>
<polygon points="229.30,412.70 230.19,415.08 232.72,415.19 230.74,416.77 231.42,419.21 229.30,417.81 227.18,419.21 227.86,416.77 225.88,415.19 228.41,415.08" fill="none" stroke="#000" stroke-width="1.0" stroke-linejoin="miter"/>
<polygon points="201.70,415.40 202.59,417.78 205.12,417.89 203.14,419.47 203.82,421.91 201.70,420.51 199.58,421.91 200.26,419.47 198.28,417.89 200.81,417.78" fill="none" stroke="#000" stroke-width="1.0" stroke-linejoin="miter"/>
<polygon points="154.50,425.00 155.39,427.38 157.92,427.49 155.94,429.07 156.62,431.51 154.50,430.11 152.38,431.51 153.06,429.07 151.08,427.49 153.61,427.38" fill="none" stroke="#000" stroke-width="1.0" stroke-linejoin="miter"/>
<polygon points="191.40,422.10 192.29,424.48 194.82,424.59 192.84,426.17 193.52,428.61 191.40,427.21 189.28,428.61 189.96,426.17 187.98,424.59 190.51,424.48" fill="none" stroke="#000" stroke-width="1.0" stroke-linejoin="miter"/>
<polygon points="209.00,425.70 209.89,428.08 212.42,428.19 210.44,429.77 211.12,432.21 209.00,430.81 206.88,432.21 207.56,429.77 205.58,428.19 208.11,428.08" fill="none" stroke="#000" stroke-width="1.0" stroke-linejoin="miter"/>
<polygon points="176.80,430.60 177.69,432.98 180.22,433.09 178.24,434.67 178.92,437.11 176.80,435.71 174.68,437.11 175.36,434.67 173.38,433.09 175.91,432.98" fill="none" stroke="#000" stroke-width="1.0" stroke-linejoin="miter"/>
<polygon points="237.10,427.20 237.99,429.58 240.52,429.69 238.54,431.27 239.22,433.71 237.10,432.31 234.98,433.71 235.66,431.27 233.68,429.69 236.21,429.58" fill="none" stroke="#000" stroke-width="1.0" stroke-linejoin="miter"/>
<polygon points="155.90,435.30 156.79,437.68 159.32,437.79 157.34,439.37 158.02,441.81 155.90,440.41 153.78,441.81 154.46,439.37 152.48,437.79 155.01,437.68" fill="none" stroke="#000" stroke-width="1.0" stroke-linejoin="miter"/>
<polygon points="162.00,443.60 162.89,445.98 165.42,446.09 163.44,447.67 164.12,450.11 162.00,448.71 159.88,450.11 160.56,447.67 158.58,446.09 161.11,445.98" fill="none" stroke="#000" stroke-width="1.0" stroke-linejoin="miter"/>
<polygon points="193.90,448.00 194.79,450.38 197.32,450.49 195.34,452.07 196.02,454.51 193.90,453.11 191.78,454.51 192.46,452.07 190.48,450.49 193.01,450.38" fill="none" stroke="#000" stroke-width="1.0" stroke-linejoin="miter"/>
<polygon points="203.70,455.90 204.59,458.28 207.12,458.39 205.14,459.97 205.82,462.41 203.70,461.01 201.58,462.41 202.26,459.97 200.28,458.39 202.81,458.28" fill="none" stroke="#000" stroke-width="1.0" stroke-linejoin="miter"/>
<polygon points="146.10,462.30 146.99,464.68 149.52,464.79 147.54,466.37 148.22,468.81 146.10,467.41 143.98,468.81 144.66,466.37 142.68,464.79 145.21,464.68" fill="none" stroke="#000" stroke-width="1.0" stroke-linejoin="miter"/>
<polygon points="195.70,462.80 196.59,465.18 199.12,465.29 197.14,466.87 197.82,469.31 195.70,467.91 193.58,469.31 194.26,466.87 192.28,465.29 194.81,465.18" fill="none" stroke="#000" stroke-width="1.0" stroke-linejoin="miter"/>
<polygon points="249.50,438.30 250.39,440.68 252.92,440.79 250.94,442.37 251.62,444.81 249.50,443.41 247.38,444.81 248.06,442.37 246.08,440.79 248.61,440.68" fill="none" stroke="#000" stroke-width="1.0" stroke-linejoin="miter"/>
<polygon points="230.90,412.30 231.79,414.68 234.32,414.79 232.34,416.37 233.02,418.81 230.90,417.41 228.78,418.81 229.46,416.37 227.48,414.79 230.01,414.68" fill="none" stroke="#000" stroke-width="1.0" stroke-linejoin="miter"/>
<polygon points="237.80,427.10 238.69,429.48 241.22,429.59 239.24,431.17 239.92,433.61 237.80,432.21 235.68,433.61 236.36,431.17 234.38,429.59 236.91,429.48" fill="none" stroke="#000" stroke-width="1.0" stroke-linejoin="miter"/>
<polygon points="232.20,396.30 233.09,398.68 235.62,398.79 233.64,400.37 234.32,402.81 232.20,401.41 230.08,402.81 230.76,400.37 228.78,398.79 231.31,398.68" fill="none" stroke="#000" stroke-width="1.0" stroke-linejoin="miter"/>
<rect x="81.3" y="320.8" width="6" height="6" fill="#000"/>
<rect x="104.9" y="327.5" width="6" height="6" fill="#000"/>
<rect x="146.0" y="321.5" width="6" height="6" fill="#000"/>
<rect x="84.2" y="361.8" width="6" height="6" fill="#000"/>
<rect x="78.7" y="366.3" width="6" height="6" fill="#000"/>
<rect x="62.4" y="382.4" width="6" height="6" fill="#000"/>
<rect x="78.7" y="415.7" width="6" height="6" fill="#000"/>
<rect x="101.8" y="410.6" width="6" height="6" fill="#000"/>
<rect x="108.2" y="412.4" width="6" height="6" fill="#000"/>
<circle cx="97.2" cy="422.1" r="3.55" fill="#f00"/>
<circle cx="116.2" cy="420.3" r="3.55" fill="#f00"/>
<circle cx="104.8" cy="427.2" r="3.55" fill="#f00"/>
<circle cx="128.4" cy="416.7" r="3.55" fill="#f00"/>
<circle cx="127.1" cy="429.9" r="3.55" fill="#f00"/>
<circle cx="138.4" cy="423.2" r="3.55" fill="#f00"/>
<circle cx="79.9" cy="432.3" r="3.55" fill="#f00"/>
<circle cx="142.0" cy="449.9" r="3.55" fill="#f00"/>
<circle cx="138.2" cy="462.2" r="3.55" fill="#f00"/>
<circle cx="155.4" cy="408.6" r="3.55" fill="#f00"/>
<circle cx="160.9" cy="421.3" r="3.55" fill="#f00"/>
<circle cx="170.5" cy="426.2" r="3.55" fill="#f00"/>
<circle cx="203.0" cy="485.2" r="3.55" fill="#f00"/>
<rect x="44.50" y="288.20" width="283.00" height="224.10" stroke="#333" stroke-width="1.3" fill="none"/>
<line x1="40.80" y1="493.50" x2="44.50" y2="493.50" stroke="#444" stroke-width="1.1"/>
<text x="37.4" y="497.4" font-size="10.8" font-family='"Liberation Sans", sans-serif' fill="#222" text-anchor="end">−0.2</text>
<line x1="40.80" y1="456.15" x2="44.50" y2="456.15" stroke="#444" stroke-width="1.1"/>
<text x="37.4" y="460.05" font-size="10.8" font-family='"Liberation Sans", sans-serif' fill="#222" text-anchor="end">−0.1</text>
<line x1="40.80" y1="418.80" x2="44.50" y2="418.80" stroke="#444" stroke-width="1.1"/>
<text x="37.4" y="422.7" font-size="10.8" font-family='"Liberation Sans", sans-serif' fill="#222" text-anchor="end">0.0</text>
<line x1="40.80" y1="381.45" x2="44.50" y2="381.45" stroke="#444" stroke-width="1.1"/>
<text x="37.4" y="385.34999999999997" font-size="10.8" font-family='"Liberation Sans", sans-serif' fill="#222" text-anchor="end">0.1</text>
<line x1="40.80" y1="344.10" x2="44.50" y2="344.10" stroke="#444" stroke-width="1.1"/>
<text x="37.4" y="348.0" font-size="10.8" font-family='"Liberation Sans", sans-serif' fill="#222" text-anchor="end">0.2</text>
<line x1="40.80" y1="306.75" x2="44.50" y2="306.75" stroke="#444" stroke-width="1.1"/>
<text x="37.4" y="310.65" font-size="10.8" font-family='"Liberation Sans", sans-serif' fill="#222" text-anchor="end">0.3</text>
<line x1="42.50" y1="512.17" x2="44.50" y2="512.17" stroke="#444" stroke-width="1.1"/>
<line x1="42.50" y1="474.82" x2="44.50" y2="474.82" stroke="#444" stroke-width="1.1"/>
<line x1="42.50" y1="437.48" x2="44.50" y2="437.48" stroke="#444" stroke-width="1.1"/>
<line x1="42.50" y1="400.12" x2="44.50" y2="400.12" stroke="#444" stroke-width="1.1"/>
<line x1="42.50" y1="362.78" x2="44.50" y2="362.78" stroke="#444" stroke-width="1.1"/>
<line x1="42.50" y1="325.43" x2="44.50" y2="325.43" stroke="#444" stroke-width="1.1"/>
<line x1="61.15" y1="512.30" x2="61.15" y2="515.70" stroke="#444" stroke-width="1.1"/>
<text x="61.14999999999999" y="527.2" font-size="10.8" font-family='"Liberation Sans", sans-serif' fill="#222" text-anchor="middle">−0.3</text>
<line x1="94.45" y1="512.30" x2="94.45" y2="515.70" stroke="#444" stroke-width="1.1"/>
<text x="94.44999999999999" y="527.2" font-size="10.8" font-family='"Liberation Sans", sans-serif' fill="#222" text-anchor="middle">−0.2</text>
<line x1="127.75" y1="512.30" x2="127.75" y2="515.70" stroke="#444" stroke-width="1.1"/>
<text x="127.74999999999999" y="527.2" font-size="10.8" font-family='"Liberation Sans", sans-serif' fill="#222" text-anchor="middle">−0.1</text>
<line x1="161.05" y1="512.30" x2="161.05" y2="515.70" stroke="#444" stroke-width="1.1"/>
<text x="161.05" y="527.2" font-size="10.8" font-family='"Liberation Sans", sans-serif' fill="#222" text-anchor="middle">0.0</text>
<line x1="194.35" y1="512.30" x2="194.35" y2="515.70" stroke="#444" stroke-width="1.1"/>
<text x="194.35" y="527.2" font-size="10.8" font-family='"Liberation Sans", sans-serif' fill="#222" text-anchor="middle">0.1</text>
<line x1="227.65" y1="512.30" x2="227.65" y2="515.70" stroke="#444" stroke-width="1.1"/>
<text x="227.65" y="527.2" font-size="10.8" font-family='"Liberation Sans", sans-serif' fill="#222" text-anchor="middle">0.2</text>
<line x1="260.95" y1="512.30" x2="260.95" y2="515.70" stroke="#444" stroke-width="1.1"/>
<text x="260.94999999999993" y="527.2" font-size="10.8" font-family='"Liberation Sans", sans-serif' fill="#222" text-anchor="middle">0.3</text>
<line x1="294.25" y1="512.30" x2="294.25" y2="515.70" stroke="#444" stroke-width="1.1"/>
<text x="294.25" y="527.2" font-size="10.8" font-family='"Liberation Sans", sans-serif' fill="#222" text-anchor="middle">0.4</text>
<line x1="327.55" y1="512.30" x2="327.55" y2="515.70" stroke="#444" stroke-width="1.1"/>
<text x="327.55" y="527.2" font-size="10.8" font-family='"Liberation Sans", sans-serif' fill="#222" text-anchor="middle">0.5</text>
<line x1="44.50" y1="512.30" x2="44.50" y2="514.10" stroke="#444" stroke-width="1.1"/>
<line x1="77.80" y1="512.30" x2="77.80" y2="514.10" stroke="#444" stroke-width="1.1"/>
<line x1="111.10" y1="512.30" x2="111.10" y2="514.10" stroke="#444" stroke-width="1.1"/>
<line x1="144.40" y1="512.30" x2="144.40" y2="514.10" stroke="#444" stroke-width="1.1"/>
<line x1="177.70" y1="512.30" x2="177.70" y2="514.10" stroke="#444" stroke-width="1.1"/>
<line x1="211.00" y1="512.30" x2="211.00" y2="514.10" stroke="#444" stroke-width="1.1"/>
<line x1="244.30" y1="512.30" x2="244.30" y2="514.10" stroke="#444" stroke-width="1.1"/>
<line x1="277.60" y1="512.30" x2="277.60" y2="514.10" stroke="#444" stroke-width="1.1"/>
<line x1="310.90" y1="512.30" x2="310.90" y2="514.10" stroke="#444" stroke-width="1.1"/>
<text x="0" y="290.2" font-size="14.0" font-family='"Liberation Sans", sans-serif' fill="#222" text-anchor="start" textLength="16.2" lengthAdjust="spacingAndGlyphs">(c)</text>
<text x="12.5" y="400" font-size="12.4" font-family='"Liberation Sans", sans-serif' fill="#222" text-anchor="middle" textLength="60.5" lengthAdjust="spacingAndGlyphs" transform="rotate(-90 12.5 400)">PC 4 (1.3%)</text>
<text x="155.4" y="545.0" font-size="12" font-family='"Liberation Sans", sans-serif' fill="#222" text-anchor="start" textLength="60.2" lengthAdjust="spacingAndGlyphs">PC 2 (5.5%)</text>
<rect x="167.80" y="293.40" width="151.80" height="63.70" stroke="#333" stroke-width="1.1" fill="#fff"/>
<rect x="181.2" y="300.0" width="6" height="6" fill="#000"/>
<text x="202.6" y="306.8" font-size="11" font-family='"Liberation Sans", sans-serif' fill="#222" text-anchor="start" textLength="17.5" lengthAdjust="spacingAndGlyphs">Ctrl</text>
<polygon points="184.20,314.70 185.09,317.08 187.62,317.19 185.64,318.77 186.32,321.21 184.20,319.81 182.08,321.21 182.76,318.77 180.78,317.19 183.31,317.08" fill="none" stroke="#000" stroke-width="1.0" stroke-linejoin="miter"/>
<text x="202.6" y="322.1" font-size="11" font-family='"Liberation Sans", sans-serif' fill="#222" text-anchor="start" textLength="115.5" lengthAdjust="spacingAndGlyphs">G3-G4 (not pregnancy)</text>
<polygon points="187.14,335.00 184.20,336.70 181.26,335.00 181.26,331.60 184.20,329.90 187.14,331.60" fill="none" stroke="#000" stroke-width="1.0"/>
<text x="202.6" y="337.1" font-size="11" font-family='"Liberation Sans", sans-serif' fill="#222" text-anchor="start" textLength="115.5" lengthAdjust="spacingAndGlyphs">G5-G6 (not pregnancy)</text>
<circle cx="184.2" cy="348.7" r="3.55" fill="#f00"/>
<text x="202.6" y="352.5" font-size="11" font-family='"Liberation Sans", sans-serif' fill="#222" text-anchor="start" textLength="53" lengthAdjust="spacingAndGlyphs">Pregnancy</text>
<line x1="394.00" y1="324.40" x2="677.30" y2="324.40" stroke="#777" stroke-width="0.9"/>
<text x="392.3" y="326.59999999999997" font-size="5.4" font-family='"Liberation Sans", sans-serif' fill="#222" text-anchor="end">0</text>
<line x1="394.00" y1="360.70" x2="677.30" y2="360.70" stroke="#777" stroke-width="0.9"/>
<text x="392.3" y="362.9" font-size="5.4" font-family='"Liberation Sans", sans-serif' fill="#222" text-anchor="end">0</text>
<line x1="394.00" y1="426.40" x2="677.30" y2="426.40" stroke="#777" stroke-width="0.9"/>
<text x="392.3" y="428.59999999999997" font-size="5.4" font-family='"Liberation Sans", sans-serif' fill="#222" text-anchor="end">0</text>
<line x1="394.00" y1="484.50" x2="677.30" y2="484.50" stroke="#777" stroke-width="0.9"/>
<text x="392.3" y="486.7" font-size="5.4" font-family='"Liberation Sans", sans-serif' fill="#222" text-anchor="end">0</text>
<path d="M394.0,321.2 L397.3,320.5 L400.5,319.4 L403.8,320.5 L406.5,323.6 L408.7,329.0 L411.4,333.4 L414.7,336.6 L418.0,336.9 L421.2,335.0 L424.5,330.1 L427.8,327.9 L431.0,325.8 L434.3,322.5 L436.5,317.0 L438.1,307.2 L439.5,296.9 L440.8,307.2 L441.9,319.2 L443.6,320.8 L445.2,323.6 L446.3,325.2 L448.5,322.5 L450.1,324.7 L452.3,330.1 L455.0,325.2 L458.3,324.1 L462.5,325.1 L464.9,329.0 L466.8,328.2 L468.6,321.4 L471.1,315.8 L473.6,320.8 L476.0,315.8 L478.5,315.2 L481.6,313.4 L484.7,307.2 L488.4,304.3 L491.5,305.3 L494.6,310.9 L496.2,312.1 L497.7,305.3 L499.5,289.3 L501.4,306.6 L503.2,323.9 L505.7,323.9 L508.1,321.4 L510.6,318.3 L512.5,311.5 L514.3,305.6 L516.2,309.7 L518.0,305.1 L519.9,312.7 L521.7,322.0 L524.2,327.6 L527.3,330.0 L530.0,330.8 L532.4,330.0 L534.9,328.2 L537.3,322.9 L539.8,323.2 L541.7,315.2 L543.3,302.2 L545.4,307.2 L547.2,310.3 L549.1,318.9 L550.9,325.7 L553.4,328.8 L557.1,331.0 L560.8,329.4 L564.5,326.3 L567.6,323.2 L569.7,325.1 L572.5,322.6 L575.6,322.0 L578.1,321.1 L580.3,326.3 L583.0,325.7 L585.5,323.9 L588.6,326.1 L592.3,325.3 L596.8,323.2 L599.3,320.1 L601.1,311.5 L603.0,294.0 L604.8,306.6 L606.7,317.7 L609.1,321.4 L612.2,321.4 L615.9,322.0 L619.0,320.1 L621.1,311.5 L623.1,305.3 L625.6,308.4 L628.3,302.2 L630.3,305.4 L632.3,312.2 L635.4,315.2 L639.1,316.3 L642.7,311.6 L644.5,315.0 L646.8,316.3 L649.5,319.2 L653.6,319.5 L655.9,319.9 L658.6,316.8 L662.2,318.9 L664.0,320.9 L665.8,324.0 L669.5,322.8 L672.6,324.7 L675.4,325.6 L677.0,324.9" stroke="#000" stroke-width="1.15" fill="none" stroke-linejoin="round"/>
<path d="M394.0,362.2 L396.2,361.7 L398.4,358.4 L400.0,359.5 L402.7,356.8 L404.9,359.5 L406.5,357.3 L408.2,360.1 L410.3,366.6 L412.5,368.8 L414.7,371.0 L416.3,374.2 L418.0,371.0 L419.6,372.6 L421.8,367.7 L424.0,362.8 L425.6,362.8 L427.2,356.2 L428.6,352.6 L430.0,358.4 L431.6,357.3 L433.2,360.1 L435.4,364.4 L437.0,357.3 L438.1,357.9 L439.5,353.5 L441.4,360.6 L444.1,361.1 L447.4,361.1 L450.1,362.8 L452.3,373.7 L453.9,368.2 L456.6,363.9 L458.3,363.3 L460.5,366.0 L462.2,366.6 L464.4,367.5 L465.4,366.0 L466.5,368.2 L468.2,363.9 L469.6,367.7 L470.9,362.2 L472.0,361.1 L473.1,356.8 L474.7,354.1 L476.1,349.7 L477.4,350.8 L479.1,349.2 L481.2,354.6 L482.9,351.3 L484.5,351.9 L486.1,348.6 L487.8,352.4 L489.4,355.2 L491.6,354.6 L493.8,352.4 L495.9,347.0 L498.1,345.3 L499.8,344.8 L500.9,344.3 L502.5,349.7 L504.7,349.7 L506.8,351.9 L507.9,347.5 L509.6,350.3 L511.2,348.6 L512.8,345.9 L514.5,347.5 L515.6,345.9 L517.2,351.3 L519.4,348.6 L521.0,355.2 L522.6,356.8 L524.3,361.7 L525.9,361.7 L527.5,365.0 L528.8,368.2 L530.7,368.8 L532.6,368.2 L534.5,369.5 L536.4,366.3 L538.3,372.0 L540.2,368.8 L542.8,363.8 L544.7,362.5 L546.6,361.2 L548.5,370.1 L550.4,364.4 L552.3,363.1 L554.5,357.8 L556.8,365.0 L558.0,359.3 L560.6,363.1 L563.1,359.9 L565.7,358.7 L567.9,367.6 L570.1,361.8 L572.0,358.3 L574.6,358.7 L577.1,354.9 L579.6,349.1 L582.2,347.9 L583.2,345.3 L584.1,361.8 L585.4,364.4 L586.6,365.0 L588.5,350.4 L590.4,363.8 L592.7,364.4 L594.9,360.1 L596.5,359.5 L599.3,354.6 L601.4,357.9 L603.6,359.5 L605.8,361.1 L607.4,365.0 L610.2,372.6 L612.3,381.8 L614.5,380.8 L617.2,374.8 L619.4,377.5 L621.6,381.8 L623.2,378.6 L625.9,384.0 L628.7,388.4 L631.4,388.9 L633.6,386.2 L635.2,388.4 L637.9,382.9 L639.6,381.8 L641.2,376.4 L644.4,373.1 L647.6,370.9 L650.9,368.2 L652.5,369.9 L655.3,371.0 L657.4,364.4 L660.2,359.0 L662.9,356.8 L665.6,356.2 L668.3,357.9 L671.0,360.1 L673.2,361.1 L674.9,362.8 L676.5,355.2" stroke="#000" stroke-width="1.15" fill="none" stroke-linejoin="round"/>
<path d="M394.0,425.7 L396.5,424.5 L399.1,424.5 L401.4,422.6 L403.5,425.1 L406.1,425.1 L408.6,425.5 L410.5,427.6 L412.4,432.7 L414.3,430.8 L415.6,433.4 L417.5,431.5 L419.4,434.0 L421.3,428.9 L423.9,427.6 L425.8,422.6 L427.7,423.2 L429.3,419.1 L430.8,426.4 L433.4,427.6 L435.9,428.9 L437.8,435.9 L439.7,441.6 L441.6,430.2 L443.6,431.5 L446.1,425.7 L447.4,425.1 L449.9,431.5 L452.4,413.3 L454.4,421.9 L456.3,424.7 L458.8,425.1 L461.9,427.6 L463.8,426.4 L465.1,423.8 L467.0,424.5 L468.6,432.1 L470.8,426.4 L472.1,428.0 L473.3,423.8 L475.0,417.1 L476.5,420.7 L477.8,418.1 L479.1,421.3 L480.3,420.7 L482.2,424.5 L484.1,423.8 L485.4,426.0 L487.3,428.3 L489.9,423.8 L491.8,428.5 L494.3,427.6 L496.8,424.5 L498.8,430.8 L500.0,434.0 L501.3,425.7 L502.6,418.8 L504.5,421.3 L506.4,418.1 L508.9,418.8 L510.8,420.4 L512.4,418.1 L514.0,426.4 L515.9,423.8 L517.8,425.7 L520.4,423.8 L522.3,421.9 L524.2,423.8 L526.1,427.6 L528.0,425.1 L530.1,426.4 L532.0,432.1 L533.9,428.3 L535.8,431.5 L537.7,437.2 L540.2,435.3 L541.5,437.2 L543.4,445.4 L545.3,441.0 L547.2,434.6 L549.1,434.6 L551.0,430.8 L553.6,427.6 L556.1,427.0 L558.7,426.4 L559.9,420.7 L561.8,421.9 L563.1,420.0 L565.0,414.9 L566.9,415.6 L568.8,418.8 L570.7,408.6 L572.6,413.7 L573.9,404.8 L575.8,404.1 L577.1,397.2 L578.4,397.8 L580.3,388.9 L582.2,388.9 L583.5,394.0 L585.4,410.5 L587.3,411.8 L588.3,406.7 L589.8,414.3 L591.7,426.4 L593.8,423.8 L595.7,430.2 L597.4,421.3 L599.5,427.6 L601.4,430.8 L603.3,439.1 L605.2,429.6 L607.8,416.8 L609.7,423.2 L611.6,418.8 L613.5,421.3 L615.4,411.8 L618.0,400.3 L619.9,404.8 L621.8,409.9 L623.3,410.5 L624.3,416.2 L626.2,411.1 L627.5,428.3 L628.8,423.8 L631.3,425.1 L633.2,426.4 L635.7,423.8 L638.0,418.1 L639.6,425.1 L642.2,422.1 L643.8,424.9 L645.4,428.1 L647.6,422.7 L649.8,425.4 L650.9,422.7 L652.5,425.9 L654.7,418.9 L656.3,418.3 L658.0,418.9 L659.6,411.8 L661.2,410.2 L661.8,406.9 L664.2,404.7 L665.6,406.3 L667.2,415.1 L668.9,410.2 L671.0,422.1 L673.2,421.6 L674.9,423.8 L676.5,430.3" stroke="#000" stroke-width="1.15" fill="none" stroke-linejoin="round"/>
<path d="M394.0,489.6 L395.3,480.7 L397.2,483.2 L399.7,487.0 L401.6,485.7 L403.5,487.0 L405.4,482.6 L407.3,484.5 L409.9,474.9 L411.8,480.7 L413.1,480.7 L415.0,474.3 L416.6,478.8 L418.1,466.7 L420.0,469.9 L421.3,469.9 L423.2,458.4 L424.5,465.4 L426.8,452.7 L428.9,465.4 L431.5,473.0 L433.1,487.6 L434.7,488.9 L435.9,504.2 L437.8,497.8 L439.7,506.1 L442.3,502.3 L444.2,509.3 L446.1,504.8 L448.6,501.0 L450.5,504.2 L451.8,488.3 L453.1,509.3 L455.0,498.4 L456.9,495.9 L458.8,490.2 L460.1,485.1 L461.5,492.7 L463.8,490.8 L465.7,485.7 L467.0,491.5 L468.9,483.8 L470.8,478.1 L472.1,474.3 L473.3,476.8 L474.6,475.6 L475.9,478.8 L477.8,474.3 L479.3,488.3 L481.0,474.9 L482.9,473.7 L484.8,481.9 L486.0,471.8 L487.7,487.6 L489.2,480.7 L490.5,483.8 L492.4,478.1 L494.3,477.5 L496.2,470.5 L497.5,464.8 L499.1,473.0 L500.7,471.1 L503.2,488.3 L505.1,480.7 L507.0,483.8 L508.9,483.8 L510.8,489.6 L512.7,486.4 L514.6,492.7 L516.5,498.5 L518.2,487.6 L519.7,498.5 L522.3,493.4 L524.8,496.5 L526.9,490.8 L528.8,488.9 L530.7,498.5 L532.4,481.3 L533.9,488.3 L535.8,488.9 L537.7,487.0 L539.6,483.8 L541.5,479.4 L543.4,487.6 L545.3,476.2 L547.2,481.9 L549.1,488.9 L550.4,484.5 L552.3,481.3 L554.0,484.5 L555.7,487.6 L557.4,481.3 L559.1,488.3 L560.6,482.6 L562.5,485.1 L564.4,492.7 L566.3,478.1 L568.2,480.7 L570.1,480.0 L571.8,474.3 L573.9,481.9 L575.8,473.7 L577.7,466.0 L579.6,471.1 L580.9,477.5 L581.9,466.7 L583.4,502.9 L585.4,478.8 L587.3,457.2 L589.2,502.3 L591.1,481.9 L592.5,485.1 L595.1,477.5 L597.0,481.9 L598.9,485.7 L600.8,478.1 L602.1,485.1 L603.3,471.8 L605.2,478.1 L607.2,487.0 L609.1,491.5 L610.3,488.3 L611.6,492.7 L612.9,484.5 L614.1,491.5 L616.0,481.9 L618.0,483.8 L619.5,499.7 L621.1,493.4 L622.8,481.3 L624.3,490.2 L626.2,478.1 L628.1,476.8 L630.7,470.5 L632.6,478.8 L634.5,474.3 L636.4,478.1 L638.3,478.1 L640.0,481.6 L641.6,488.7 L643.8,481.0 L646.0,486.0 L647.6,490.3 L649.6,481.6 L650.3,489.2 L652.0,482.7 L653.6,476.1 L655.3,483.2 L656.3,488.1 L657.4,482.1 L659.6,495.8 L661.2,491.4 L662.9,499.0 L665.6,500.1 L667.2,497.9 L668.5,506.1 L670.0,493.6 L671.6,494.7 L673.2,485.9 L674.9,488.1 L676.5,488.7" stroke="#000" stroke-width="1.15" fill="none" stroke-linejoin="round"/>
<line x1="394.00" y1="271.40" x2="677.30" y2="271.40" stroke="#333" stroke-width="1.2"/>
<line x1="677.30" y1="271.40" x2="677.30" y2="518.90" stroke="#666" stroke-width="1.4"/>
<line x1="394.00" y1="518.90" x2="677.30" y2="518.90" stroke="#555" stroke-width="1.6"/>
<line x1="394.00" y1="271.40" x2="394.00" y2="518.90" stroke="#777" stroke-width="1.6"/>
<line x1="677.00" y1="518.90" x2="677.00" y2="521.10" stroke="#333" stroke-width="1.1"/>
<text x="677.0" y="530.9" font-size="9.4" font-family='"Liberation Sans", sans-serif' fill="#222" text-anchor="middle" textLength="16.0" lengthAdjust="spacingAndGlyphs">600</text>
<line x1="629.90" y1="518.90" x2="629.90" y2="521.10" stroke="#333" stroke-width="1.1"/>
<text x="629.9" y="530.9" font-size="9.4" font-family='"Liberation Sans", sans-serif' fill="#222" text-anchor="middle" textLength="16.0" lengthAdjust="spacingAndGlyphs">800</text>
<line x1="582.80" y1="518.90" x2="582.80" y2="521.10" stroke="#333" stroke-width="1.1"/>
<text x="582.8" y="530.9" font-size="9.4" font-family='"Liberation Sans", sans-serif' fill="#222" text-anchor="middle" textLength="20.8" lengthAdjust="spacingAndGlyphs">1000</text>
<line x1="535.70" y1="518.90" x2="535.70" y2="521.10" stroke="#333" stroke-width="1.1"/>
<text x="535.7" y="530.9" font-size="9.4" font-family='"Liberation Sans", sans-serif' fill="#222" text-anchor="middle" textLength="20.8" lengthAdjust="spacingAndGlyphs">1200</text>
<line x1="488.60" y1="518.90" x2="488.60" y2="521.10" stroke="#333" stroke-width="1.1"/>
<text x="488.59999999999997" y="530.9" font-size="9.4" font-family='"Liberation Sans", sans-serif' fill="#222" text-anchor="middle" textLength="20.8" lengthAdjust="spacingAndGlyphs">1400</text>
<line x1="441.50" y1="518.90" x2="441.50" y2="521.10" stroke="#333" stroke-width="1.1"/>
<text x="441.5" y="530.9" font-size="9.4" font-family='"Liberation Sans", sans-serif' fill="#222" text-anchor="middle" textLength="20.8" lengthAdjust="spacingAndGlyphs">1600</text>
<line x1="394.40" y1="518.90" x2="394.40" y2="521.10" stroke="#333" stroke-width="1.1"/>
<text x="394.4" y="530.9" font-size="9.4" font-family='"Liberation Sans", sans-serif' fill="#222" text-anchor="middle" textLength="20.8" lengthAdjust="spacingAndGlyphs">1800</text>
<line x1="653.45" y1="518.90" x2="653.45" y2="520.70" stroke="#333" stroke-width="1.1"/>
<line x1="606.35" y1="518.90" x2="606.35" y2="520.70" stroke="#333" stroke-width="1.1"/>
<line x1="559.25" y1="518.90" x2="559.25" y2="520.70" stroke="#333" stroke-width="1.1"/>
<line x1="512.15" y1="518.90" x2="512.15" y2="520.70" stroke="#333" stroke-width="1.1"/>
<line x1="465.05" y1="518.90" x2="465.05" y2="520.70" stroke="#333" stroke-width="1.1"/>
<line x1="417.95" y1="518.90" x2="417.95" y2="520.70" stroke="#333" stroke-width="1.1"/>
<text x="342.4" y="290.4" font-size="14.8" font-family='"Liberation Sans", sans-serif' fill="#222" text-anchor="start" textLength="18.7" lengthAdjust="spacingAndGlyphs">(d)</text>
<text x="383.6" y="388.3" font-size="12" font-family='"Liberation Sans", sans-serif' fill="#222" text-anchor="middle" textLength="97" lengthAdjust="spacingAndGlyphs" transform="rotate(-90 383.6 388.3)">Loading plots (a.u.)</text>
<text x="489" y="548.6" font-size="11.5" font-family='"Liberation Sans", sans-serif' fill="#222">Raman shift (cm<tspan font-size="7.5" dy="-4.5">-1</tspan><tspan dy="4.5">)</tspan></text>
<text x="653.7" y="284.7" font-size="11.2" font-family='"Liberation Sans", sans-serif' fill="#222" text-anchor="start" textLength="18.3" lengthAdjust="spacingAndGlyphs">PC1</text>
<text x="654" y="341" font-size="11.2" font-family='"Liberation Sans", sans-serif' fill="#222" text-anchor="start" textLength="18.3" lengthAdjust="spacingAndGlyphs">PC2</text>
<text x="655" y="388" font-size="11.2" font-family='"Liberation Sans", sans-serif' fill="#222" text-anchor="start" textLength="18.3" lengthAdjust="spacingAndGlyphs">PC3</text>
<text x="653.5" y="451.7" font-size="11.2" font-family='"Liberation Sans", sans-serif' fill="#222" text-anchor="start" textLength="18.3" lengthAdjust="spacingAndGlyphs">PC4</text>
<text x="442.2" y="296.6" font-size="8.4" font-family='"Liberation Sans", sans-serif' fill="#333" text-anchor="start" textLength="17.0" lengthAdjust="spacingAndGlyphs" transform="rotate(-90 442.2 296.6)">1608</text>
<text x="503.2" y="289.0" font-size="8.4" font-family='"Liberation Sans", sans-serif' fill="#333" text-anchor="start" textLength="16.7" lengthAdjust="spacingAndGlyphs" transform="rotate(-90 503.2 289.0)">1352</text>
<text x="515.0" y="305.2" font-size="8.4" font-family='"Liberation Sans", sans-serif' fill="#333" text-anchor="start" textLength="17.6" lengthAdjust="spacingAndGlyphs" transform="rotate(-90 515.0 305.2)">1290</text>
<text x="523.8" y="303.9" font-size="8.4" font-family='"Liberation Sans", sans-serif' fill="#333" text-anchor="start" textLength="16.7" lengthAdjust="spacingAndGlyphs" transform="rotate(-90 523.8 303.9)">1275</text>
<text x="547.2" y="300.7" font-size="8.4" font-family='"Liberation Sans", sans-serif' fill="#333" text-anchor="start" textLength="17.2" lengthAdjust="spacingAndGlyphs" transform="rotate(-90 547.2 300.7)">1168</text>
<text x="606.7" y="292.1" font-size="8.4" font-family='"Liberation Sans", sans-serif' fill="#333" text-anchor="start" textLength="12.6" lengthAdjust="spacingAndGlyphs" transform="rotate(-90 606.7 292.1)">914</text>
<text x="584.1" y="345.6" font-size="8.4" font-family='"Liberation Sans", sans-serif' fill="#333" text-anchor="start" textLength="15.1" lengthAdjust="spacingAndGlyphs" transform="rotate(-90 584.1 345.6)">1001</text>
<text x="595.0" y="350.1" font-size="8.4" font-family='"Liberation Sans", sans-serif' fill="#333" text-anchor="start" textLength="13.2" lengthAdjust="spacingAndGlyphs" transform="rotate(-90 595.0 350.1)">977</text>
<text x="456.3" y="408.9" font-size="8.4" font-family='"Liberation Sans", sans-serif' fill="#333" text-anchor="start" textLength="17.0" lengthAdjust="spacingAndGlyphs" transform="rotate(-90 456.3 408.9)">1552</text>
<text x="581.5" y="385.0" font-size="8.4" font-family='"Liberation Sans", sans-serif' fill="#333" text-anchor="start" textLength="16.4" lengthAdjust="spacingAndGlyphs" transform="rotate(-90 581.5 385.0)">1013</text>
<text x="621.1" y="399.4" font-size="8.4" font-family='"Liberation Sans", sans-serif' fill="#333" text-anchor="start" textLength="12.6" lengthAdjust="spacingAndGlyphs" transform="rotate(-90 621.1 399.4)">852</text>
<text x="430.8" y="451.1" font-size="8.4" font-family='"Liberation Sans", sans-serif' fill="#333" text-anchor="start" textLength="16.7" lengthAdjust="spacingAndGlyphs" transform="rotate(-90 430.8 451.1)">1662</text>
<text x="591.1" y="453.0" font-size="8.4" font-family='"Liberation Sans", sans-serif' fill="#333" text-anchor="start" textLength="12.2" lengthAdjust="spacingAndGlyphs" transform="rotate(-90 591.1 453.0)">980</text>
<text x="585.5" y="518.1" font-size="8.4" font-family='"Liberation Sans", sans-serif' fill="#333" text-anchor="start" textLength="12.7" lengthAdjust="spacingAndGlyphs" transform="rotate(-90 585.5 518.1)">997</text>
<text x="592.5" y="518.1" font-size="8.4" font-family='"Liberation Sans", sans-serif' fill="#333" text-anchor="start" textLength="12.7" lengthAdjust="spacingAndGlyphs" transform="rotate(-90 592.5 518.1)">972</text>
</svg></body></html>
